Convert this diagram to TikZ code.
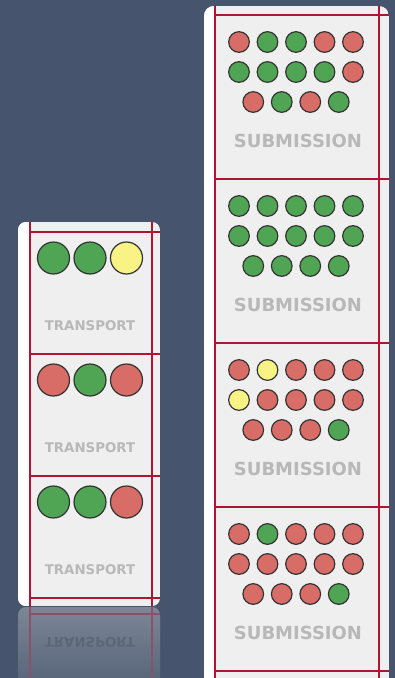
\documentclass[tikz,border=0pt]{standalone}
\usepackage{fontspec}
\setsansfont{DejaVu Sans}
\definecolor{bgblue}{RGB}{70,85,109}
\definecolor{panelgray}{RGB}{239,239,239}
\definecolor{gridred}{RGB}{176,20,50}
\definecolor{grn}{RGB}{80,165,85}
\definecolor{rd}{RGB}{216,108,102}
\definecolor{ylw}{RGB}{248,243,132}
\definecolor{labelgray}{RGB}{184,184,184}
\definecolor{refltop}{RGB}{124,134,151}
\definecolor{reflbot}{RGB}{84,97,118}
\definecolor{reflred}{RGB}{140,80,105}
\definecolor{refltext}{RGB}{92,102,122}

\begin{document}
\begin{tikzpicture}[x=0.75pt,y=-0.75pt,
    every node/.style={font=\sffamily\bfseries},
    lamp/.style={draw=black!80,line width=0.9pt,circle,inner sep=0pt},
    big lamp/.style={lamp,minimum size=24pt},
    small lamp/.style={lamp,minimum size=15.5pt},
    tag/.style={text=labelgray,font=\sffamily\bfseries\fontsize{10}{12}\selectfont},
    big tag/.style={text=labelgray,font=\sffamily\bfseries\fontsize{13.5}{16}\selectfont},
    grid/.style={gridred,line width=0.8pt}]
    \useasboundingbox (0,0) rectangle (395,678);
    \clip (0,0) rectangle (395,678);
    \fill[bgblue] (0,0) rectangle (395,678);

    % transport panel
    \begin{scope}
        \clip[rounded corners=6pt] (18,222) rectangle (160,606);
        \fill[panelgray] (18,222) rectangle (160,606);
        \fill[white] (18,222) rectangle (30,606);
    \end{scope}
    \shade[top color=refltop,bottom color=reflbot,rounded corners=6pt] (18,607) rectangle (160,690);
    \foreach \y in {232,354,476,598} {
            \draw[grid] (30,\y) -- (160,\y);
        }
    \draw[grid] (30,222) -- (30,606) (152,222) -- (152,606);
    \draw[reflred,line width=0.8pt] (30,607) -- (30,678) (152,607) -- (152,678) (30,614) -- (160,614);
    \node[tag,text=refltext,yscale=-1] (tmirror) at (90,642) {TRANSPORT};
    \foreach \k/\cols in {0/{grn,grn,ylw},1/{rd,grn,rd},2/{grn,grn,rd}} {
            \foreach \col [count=\i] in \cols {
                    \node[big lamp,fill=\col] (t\k c\i) at (17+36.5*\i,258+122*\k) {};
                }
            \node[tag] (tlabel\k) at (90,326+122*\k) {TRANSPORT};
        }

    % submission panel
    \begin{scope}
        \clip[rounded corners=7.5pt] (204,6) rectangle (389,690);
        \fill[panelgray] (204,6) rectangle (389,690);
        \fill[white] (204,6) rectangle (215,690);
    \end{scope}
    \foreach \y in {15,179,343,507,671} {
            \draw[grid] (215,\y) -- (389,\y);
        }
    \draw[grid] (215,6) -- (215,678) (379,6) -- (379,678);
    \foreach \k/\rowa/\rowb/\rowc in {
            0/{rd,grn,grn,rd,rd}/{grn,grn,grn,grn,rd}/{rd,grn,rd,grn},
            1/{grn,grn,grn,grn,grn}/{grn,grn,grn,grn,grn}/{grn,grn,grn,grn},
            2/{rd,ylw,rd,rd,rd}/{ylw,rd,rd,rd,rd}/{rd,rd,rd,grn},
            3/{rd,grn,rd,rd,rd}/{rd,rd,rd,rd,rd}/{rd,rd,rd,grn}} {
            \foreach \col [count=\i] in \rowa {
                    \node[small lamp,fill=\col] (s\k a\i) at (210.5+28.5*\i,42+164*\k) {};
                }
            \foreach \col [count=\i] in \rowb {
                    \node[small lamp,fill=\col] (s\k b\i) at (210.5+28.5*\i,72+164*\k) {};
                }
            \foreach \col [count=\i] in \rowc {
                    \node[small lamp,fill=\col] (s\k c\i) at (224.75+28.5*\i,102+164*\k) {};
                }
            \node[big tag] (slabel\k) at (298,141+164*\k) {SUBMISSION};
        }
\end{tikzpicture}
\end{document}
